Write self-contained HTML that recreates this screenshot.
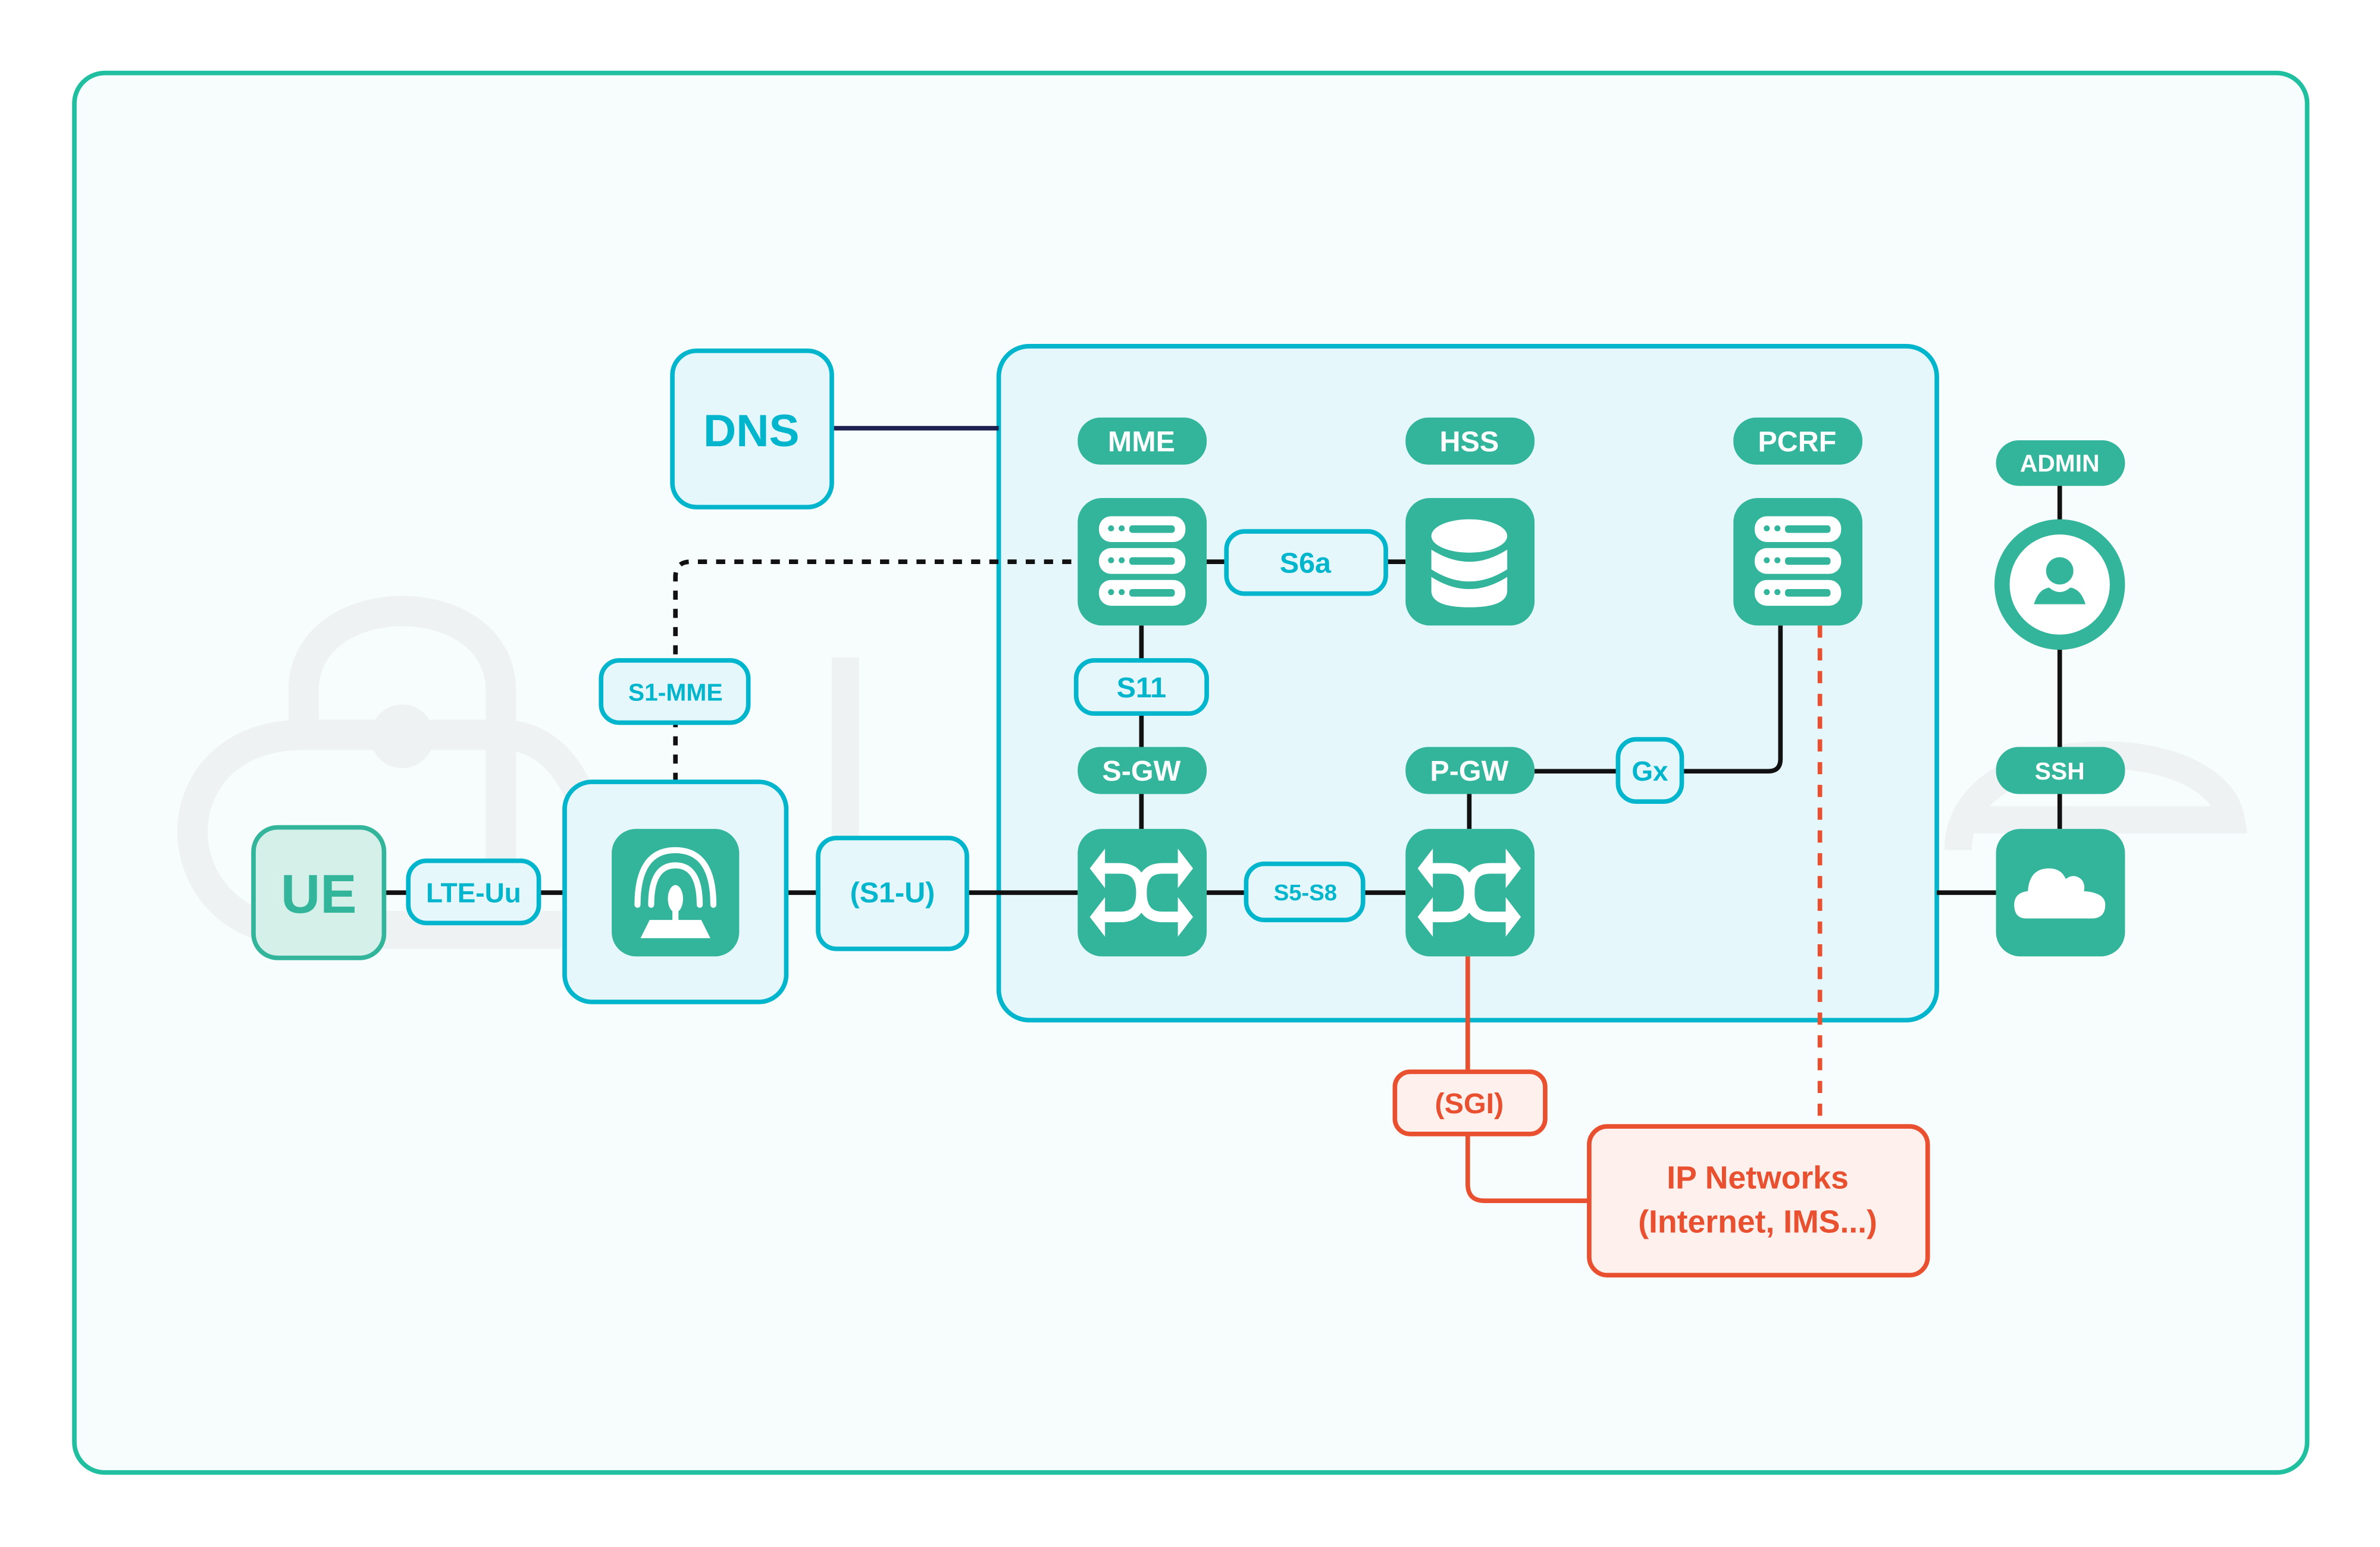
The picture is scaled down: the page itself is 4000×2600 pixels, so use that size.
<!DOCTYPE html>
<html><head><meta charset="utf-8"><style>
html,body{margin:0;padding:0;background:#fff}
svg{display:block}
text{font-family:"Liberation Sans",sans-serif;font-weight:bold;text-anchor:middle;dominant-baseline:central}
</style></head><body>
<svg width="4000" height="2600" viewBox="0 0 1568 1019" xmlns="http://www.w3.org/2000/svg">
<rect width="1568" height="1019" fill="#ffffff"/>
<rect x="49" y="48" width="1471" height="922" rx="20" fill="#f7fcfc" stroke="#1fbf9f" stroke-width="3"/>
<!-- watermark -->
<g fill="none" stroke="#eef2f3" stroke-width="20">
<path d="M200 614 C105 614 100 484 200 484 L320 484"/>
<path d="M200 484 L200 455 C200 385 330 385 330 455 L330 580"/>
<path d="M330 484 C365 484 385 515 392 560"/>
</g>
<circle cx="265" cy="485" r="21" fill="#eef2f3"/>
<rect x="548" y="433" width="18" height="180" fill="#eef2f3"/>
<rect x="200" y="600" width="170" height="25" fill="#eef2f3"/>
<path d="M1290 560 C1290 480 1460 480 1470 540 L1290 540" fill="none" stroke="#eef2f3" stroke-width="18"/>
<!-- core box -->
<rect x="658" y="228" width="618" height="444" rx="20" fill="#e5f7fa" stroke="#00b5cc" stroke-width="3"/>
<!-- lines -->
<g stroke="#111" stroke-width="3" fill="none">
<line x1="548" y1="282" x2="658" y2="282" stroke="#1e2250"/>
<line x1="253" y1="588" x2="372" y2="588"/>
<line x1="518" y1="588" x2="710" y2="588"/>
<line x1="795" y1="588" x2="926" y2="588"/>
<line x1="795" y1="370" x2="926" y2="370"/>
<line x1="752" y1="412" x2="752" y2="546"/>
<line x1="968" y1="523" x2="968" y2="546"/>
<path d="M1011 508 L1165 508 Q1173 508 1173 500 L1173 412"/>
<line x1="1357" y1="319" x2="1357" y2="546"/>
<line x1="1276" y1="588" x2="1315" y2="588"/>
<path d="M445 515 L445 380 Q445 370 455 370 L710 370" stroke-dasharray="6 6"/>
</g>
<g stroke="#e8502f" stroke-width="3" fill="none">
<path d="M967 630 L967 780 Q967 791 978 791 L1047 791"/>
<line x1="1199" y1="412" x2="1199" y2="742" stroke-dasharray="8 7"/>
</g>
<!-- DNS -->
<rect x="443" y="231" width="105" height="103" rx="16" fill="#e5f7fa" stroke="#00b5cc" stroke-width="3"/>
<text x="495" y="284" font-size="30" fill="#00b5cc">DNS</text>
<!-- teal labels -->
<g fill="#33b59c">
<rect x="710" y="275" width="85" height="31" rx="15"/>
<rect x="926" y="275" width="85" height="31" rx="15"/>
<rect x="1142" y="275" width="85" height="31" rx="15"/>
<rect x="710" y="492" width="85" height="31" rx="15"/>
<rect x="926" y="492" width="85" height="31" rx="15"/>
<rect x="1315" y="290" width="85" height="30" rx="15"/>
<rect x="1315" y="492" width="85" height="31" rx="15"/>
<rect x="710" y="328" width="85" height="84" rx="16"/>
<rect x="926" y="328" width="85" height="84" rx="16"/>
<rect x="1142" y="328" width="85" height="84" rx="16"/>
<rect x="710" y="546" width="85" height="84" rx="16"/>
<rect x="926" y="546" width="85" height="84" rx="16"/>
<rect x="1315" y="546" width="85" height="84" rx="16"/>
<circle cx="1357" cy="385" r="43"/>
</g>
<g fill="#fff">
<text x="752" y="291" font-size="19">MME</text>
<text x="968" y="291" font-size="19">HSS</text>
<text x="1184" y="291" font-size="19">PCRF</text>
<text x="752" y="508" font-size="19">S-GW</text>
<text x="968" y="508" font-size="19">P-GW</text>
<text x="1357" y="305" font-size="16">ADMIN</text>
<text x="1357" y="508" font-size="16">SSH</text>
</g>
<!-- server icons -->
<g fill="#fff">
<rect x="724" y="340" width="57" height="17" rx="8"/>
<rect x="724" y="361" width="57" height="17" rx="8"/>
<rect x="724" y="382" width="57" height="17" rx="8"/>
</g>
<g fill="#33b59c">
<circle cx="732" cy="348" r="2"/><circle cx="739" cy="348" r="2"/><rect x="744" y="346" width="30" height="5" rx="2"/>
<circle cx="732" cy="369" r="2"/><circle cx="739" cy="369" r="2"/><rect x="744" y="367" width="30" height="5" rx="2"/>
<circle cx="732" cy="390" r="2"/><circle cx="739" cy="390" r="2"/><rect x="744" y="388" width="30" height="5" rx="2"/>
</g>
<g fill="#fff">
<rect x="1156" y="340" width="57" height="17" rx="8"/>
<rect x="1156" y="361" width="57" height="17" rx="8"/>
<rect x="1156" y="382" width="57" height="17" rx="8"/>
</g>
<g fill="#33b59c">
<circle cx="1164" cy="348" r="2"/><circle cx="1171" cy="348" r="2"/><rect x="1176" y="346" width="30" height="5" rx="2"/>
<circle cx="1164" cy="369" r="2"/><circle cx="1171" cy="369" r="2"/><rect x="1176" y="367" width="30" height="5" rx="2"/>
<circle cx="1164" cy="390" r="2"/><circle cx="1171" cy="390" r="2"/><rect x="1176" y="388" width="30" height="5" rx="2"/>
</g>
<!-- db -->
<g fill="#fff">
<ellipse cx="968" cy="353" rx="25" ry="11"/>
<path d="M943 362 Q968 378 993 362 L993 375 Q968 391 943 375Z"/>
<path d="M943 380 Q968 396 993 380 L993 389 Q993 400 968 400 Q943 400 943 389Z"/>
</g>
<!-- shuffle icons -->
<g fill="none" stroke="#fff" stroke-width="7">
<path d="M725 572 L738 572 Q752 572 752 588 Q752 604 766 604 L778 604"/>
<path d="M725 604 L738 604 Q752 604 752 588 Q752 572 766 572 L778 572"/>
<path d="M941 572 L954 572 Q968 572 968 588 Q968 604 982 604 L994 604"/>
<path d="M941 604 L954 604 Q968 604 968 588 Q968 572 982 572 L994 572"/>
</g>
<g fill="#fff">
<path d="M718 572 L728 559 L728 585Z"/><path d="M718 604 L728 591 L728 617Z"/>
<path d="M786 572 L776 559 L776 585Z"/><path d="M786 604 L776 591 L776 617Z"/>
<path d="M934 572 L944 559 L944 585Z"/><path d="M934 604 L944 591 L944 617Z"/>
<path d="M1002 572 L992 559 L992 585Z"/><path d="M1002 604 L992 591 L992 617Z"/>
</g>
<!-- admin user -->
<circle cx="1357" cy="385" r="33" fill="#fff"/>
<circle cx="1357" cy="376" r="9" fill="#33b59c"/>
<path d="M1340 398 Q1343 388 1350 387 Q1357 393 1364 387 Q1371 388 1374 398Z" fill="#33b59c"/>
<!-- cloud -->
<path d="M1335 605 Q1327 605 1327 596 Q1327 588 1336 587 Q1337 572 1350 572 Q1358 572 1361 579 Q1366 575 1371 579 Q1374 582 1373 587 Q1387 588 1387 596 Q1387 605 1378 605Z" fill="#fff"/>
<!-- cyan label boxes -->
<g fill="#e5f7fa" stroke="#00b5cc" stroke-width="3">
<rect x="808" y="350" width="105" height="41" rx="12"/>
<rect x="709" y="435" width="86" height="35" rx="12"/>
<rect x="1066" y="487" width="42" height="41" rx="12"/>
<rect x="821" y="569" width="77" height="37" rx="12"/>
<rect x="269" y="567" width="86" height="41" rx="12"/>
<rect x="539" y="552" width="98" height="73" rx="12"/>
<rect x="396" y="435" width="97" height="41" rx="12"/>
<rect x="372" y="515" width="146" height="145" rx="18"/>
</g>
<g fill="#00b5cc">
<text x="860" y="371" font-size="19">S6a</text>
<text x="752" y="453" font-size="19">S11</text>
<text x="1087" y="508" font-size="18">Gx</text>
<text x="860" y="588" font-size="15">S5-S8</text>
<text x="312" y="588" font-size="18">LTE-Uu</text>
<text x="588" y="588" font-size="19">(S1-U)</text>
<text x="445" y="456" font-size="16">S1-MME</text>
</g>
<!-- UE -->
<rect x="167" y="545" width="86" height="86" rx="16" fill="#d5f0e9" stroke="#33b59c" stroke-width="3"/>
<text x="210" y="589" font-size="36" fill="#33b59c">UE</text>
<!-- eNB icon -->
<rect x="403" y="546" width="84" height="84" rx="16" fill="#33b59c"/>
<g fill="none" stroke="#fff" stroke-width="4" stroke-linecap="round">
<path d="M420 596 Q420 560 445 560 Q470 560 470 596"/>
<path d="M429 596 Q429 570 445 570 Q461 570 461 596"/>
</g>
<ellipse cx="445" cy="592" rx="5" ry="9" fill="#fff"/>
<rect x="443" y="596" width="4" height="12" fill="#fff"/>
<path d="M422 618 L428 606 L462 606 L468 618Z" fill="#fff"/>
<!-- SGI / IP -->
<rect x="919" y="706" width="99" height="41" rx="10" fill="#fdf0ed" stroke="#e8502f" stroke-width="3"/>
<text x="968" y="727" font-size="19" fill="#e8502f">(SGI)</text>
<rect x="1047" y="742" width="223" height="98" rx="12" fill="#fdf0ed" stroke="#e8502f" stroke-width="3"/>
<text x="1158" y="776" font-size="21" fill="#e8502f">IP Networks</text>
<text x="1158" y="805" font-size="21" fill="#e8502f">(Internet, IMS...)</text>
</svg>
</body></html>
